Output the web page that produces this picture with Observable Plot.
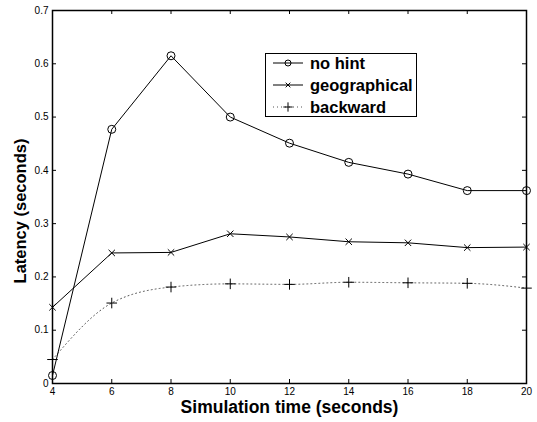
<!DOCTYPE html>
<html>
<head>
<meta charset="utf-8">
<script src="https://cdn.jsdelivr.net/npm/d3@7"></script>
<script src="https://cdn.jsdelivr.net/npm/@observablehq/plot@0.6"></script>
<style>
  body { margin: 0; background: #fff; }
  #wrap { position: relative; width: 537px; height: 422px; font-family: "Liberation Sans", Arial, Helvetica, sans-serif; }
  #legend { position: absolute; left: 265px; top: 53px; width: 152px; height: 64px; border: 1px solid #000; background: #fff; box-sizing: border-box; }
  .row { position: absolute; left: 0; height: 20px; display: flex; align-items: center; }
  .row span { font-weight: bold; font-size: 16.5px; color: #000; margin-left: 0px; white-space: nowrap; }
</style>
</head>
<body>
<div id="wrap"></div>
<script>
const times = [4, 6, 8, 10, 12, 14, 16, 18, 20];
const noHint = [0.015, 0.477, 0.615, 0.500, 0.451, 0.415, 0.393, 0.362, 0.362];
const geographical = [0.143, 0.245, 0.246, 0.281, 0.275, 0.266, 0.264, 0.255, 0.256];
const backward = [0.045, 0.151, 0.181, 0.187, 0.186, 0.190, 0.189, 0.188, 0.179];
const xTicks = [4, 6, 8, 10, 12, 14, 16, 18, 20];
const yTicks = [0, 0.1, 0.2, 0.3, 0.4, 0.5, 0.6, 0.7];
const seriesNames = ["no hint", "geographical", "backward"];
const xLabel = "Simulation time (seconds)";
const yLabel = "Latency (seconds)";

const W = 537, H = 422;
const mL = 52, mR = 11, mT = 10, mB = 39;
const innerW = W - mL - mR, innerH = H - mT - mB;
const tl = 4;

const rows = (vals) => times.map((t, i) => ({t, v: vals[i]}));
const dNo = rows(noHint), dGeo = rows(geographical), dBack = rows(backward);

const chart = Plot.plot({
  width: W, height: H,
  marginLeft: mL, marginRight: mR, marginTop: mT, marginBottom: mB,
  style: {fontFamily: '"Liberation Sans", Arial, Helvetica, sans-serif', fontSize: "10px", color: "#000", background: "#fff"},
  x: {domain: [4, 20], ticks: xTicks, tickSize: 0, tickPadding: 4, label: null},
  y: {domain: [0, 0.7], ticks: yTicks, tickSize: 0, tickPadding: 4, label: null, tickFormat: d => String(+d.toFixed(1))},
  marks: [
    Plot.tickX(xTicks, {x: d => d, insetTop: innerH - tl, stroke: "#000"}),
    Plot.tickX(xTicks, {x: d => d, insetBottom: innerH - tl, stroke: "#000"}),
    Plot.tickY(yTicks, {y: d => d, insetRight: innerW - tl, stroke: "#000"}),
    Plot.tickY(yTicks, {y: d => d, insetLeft: innerW - tl, stroke: "#000"}),
    Plot.line(dBack, {x: "t", y: "v", stroke: "#555", strokeWidth: 1, strokeDasharray: "1,3", curve: "monotone-x"}),
    Plot.line(dGeo, {x: "t", y: "v", stroke: "#000", strokeWidth: 1}),
    Plot.line(dNo, {x: "t", y: "v", stroke: "#000", strokeWidth: 1}),
    Plot.dot(dNo, {x: "t", y: "v", symbol: "circle", r: 4, stroke: "#000", fill: "none", strokeWidth: 1}),
    Plot.dot(dGeo, {x: "t", y: "v", symbol: "times", r: 3, stroke: "#000", fill: "none", strokeWidth: 1}),
    Plot.dot(dBack, {x: "t", y: "v", symbol: "plus", r: 3.5, stroke: "#000", fill: "none", strokeWidth: 1}),
    Plot.frame({stroke: "#000", strokeWidth: 1.5}),
    Plot.text([xLabel], {frameAnchor: "bottom", dy: 29, text: d => d, fontWeight: "bold", fontSize: 17.5, fill: "#000"}),
    Plot.text([yLabel], {frameAnchor: "left", textAnchor: "middle", dx: -32, dy: 14, rotate: -90, text: d => d, fontWeight: "bold", fontSize: 16.5, fill: "#000"})
  ]
});

const wrap = document.getElementById("wrap");
wrap.appendChild(chart);

// Legend
const legend = document.createElement("div");
legend.id = "legend";
const styles = [
  {sym: "circle", dash: null, stroke: "#000"},
  {sym: "times", dash: null, stroke: "#000"},
  {sym: "plus", dash: "1,3", stroke: "#555"}
];
seriesNames.forEach((name, i) => {
  const row = document.createElement("div");
  row.className = "row";
  row.style.top = (-1 + i * 22) + "px";
  const ns = "http://www.w3.org/2000/svg";
  const svg = document.createElementNS(ns, "svg");
  svg.setAttribute("width", 44); svg.setAttribute("height", 20);
  const ln = document.createElementNS(ns, "line");
  ln.setAttribute("x1", 7); ln.setAttribute("x2", 37); ln.setAttribute("y1", 10); ln.setAttribute("y2", 10);
  ln.setAttribute("stroke", styles[i].stroke);
  if (styles[i].dash) ln.setAttribute("stroke-dasharray", styles[i].dash);
  svg.appendChild(ln);
  const p = document.createElementNS(ns, "path");
  const symTypes = {circle: d3.symbolCircle, times: d3.symbolTimes, plus: d3.symbolPlus};
  const size = {circle: Math.PI * 9, times: 16, plus: 30}[styles[i].sym];
  p.setAttribute("d", d3.symbol(symTypes[styles[i].sym], size)());
  p.setAttribute("transform", "translate(22,10)");
  p.setAttribute("fill", "none"); p.setAttribute("stroke", "#000");
  svg.appendChild(p);
  row.appendChild(svg);
  const sp = document.createElement("span");
  sp.textContent = name;
  row.appendChild(sp);
  legend.appendChild(row);
});
wrap.appendChild(legend);
</script>
</body>
</html>
